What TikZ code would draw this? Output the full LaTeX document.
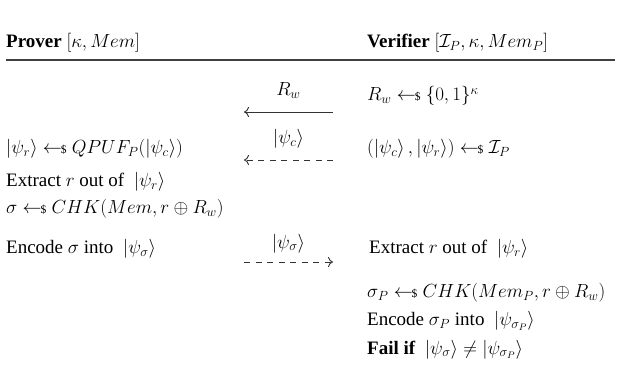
\RequirePackage{fix-cm}
\documentclass[tikz,border=0pt]{standalone}
\usepackage{amsmath,amssymb}
\usepackage{fontspec}
\setmainfont{Liberation Serif}
\usetikzlibrary{arrows.meta}
\newcommand{\smp}{\mathrel{\leftarrow\!\!\mbox{\fontsize{11.5}{11.5}\selectfont\$}}}
\newcommand{\kt}[1]{\left|#1\right>}
\newcommand{\gp}{\hspace{0.25em}}
\begin{document}
\begin{tikzpicture}[x=1pt,y=-1pt,
  txt/.style={anchor=base west,inner sep=0pt,font=\fontsize{19}{23}\selectfont},
  lbl/.style={anchor=base,inner sep=0pt,font=\fontsize{19}{23}\selectfont},
  msg/.style={line width=0.9pt,draw=black!80,-{Computer Modern Rightarrow[length=5pt,width=10pt]}},
  dmsg/.style={msg,dash pattern=on 6pt off 5.5pt}]
\useasboundingbox (0,0) rectangle (622,385);
% header
\node[txt] (hp) at (6,48) {\textbf{Prover}\gp$[\kappa, Mem]$};
\node[txt] (hv) at (367,48) {\textbf{Verifier}\gp$[\mathcal{I}_P, \kappa, Mem_P]$};
\coordinate (l1) at (6,60);
\coordinate (l2) at (615,60);
\draw[line width=1.2pt,black!75] (l1) -- (l2);
% row 1
\node[txt] (v1) at (367,101) {$R_w \smp \{0,1\}^\kappa$};
\coordinate (a1s) at (333,112);
\coordinate (a1e) at (244,112);
\draw[msg] (a1s) -- (a1e);
\node[lbl] (m1) at (288.5,96) {$R_w$};
% row 2
\node[txt] (p2) at (6,154) {$\kt{\psi_r} \smp QPUF_P(\kt{\psi_c})$};
\node[txt] (v2) at (367,154) {$(\kt{\psi_c}, \kt{\psi_r}) \smp \mathcal{I}_P$};
\coordinate (a2s) at (333,160);
\coordinate (a2e) at (244,160);
\draw[dmsg] (a2s) -- (a2e);
\node[lbl] (m2) at (288.5,144) {$\kt{\psi_c}$};
% prover computations
\node[txt] (p3) at (6,187) {Extract\gp$r$\gp out of\gp\gp$\kt{\psi_r}$};
\node[txt] (p4) at (6,214) {$\sigma \smp CHK(Mem, r \oplus R_w)$};
\node[txt] (p5) at (6,254) {Encode\gp$\sigma$\gp into\gp\gp$\kt{\psi_\sigma}$};
% row 3
\coordinate (a3s) at (244,262);
\coordinate (a3e) at (333,262);
\draw[dmsg] (a3s) -- (a3e);
\node[lbl] (m3) at (288.5,248) {$\kt{\psi_\sigma}$};
\node[txt] (v3) at (369,254) {Extract\gp$r$\gp out of\gp\gp$\kt{\psi_r}$};
\node[txt] (v4) at (367,298) {$\sigma_P \smp CHK(Mem_P, r \oplus R_w)$};
\node[txt] (v5) at (367,326) {Encode\gp$\sigma_P$\gp into\gp\gp$\kt{\psi_{\sigma_P}}$};
\node[txt] (v6) at (367,354) {\textbf{Fail if}\gp\gp$\kt{\psi_\sigma} \neq \kt{\psi_{\sigma_P}}$};
\end{tikzpicture}
\end{document}
